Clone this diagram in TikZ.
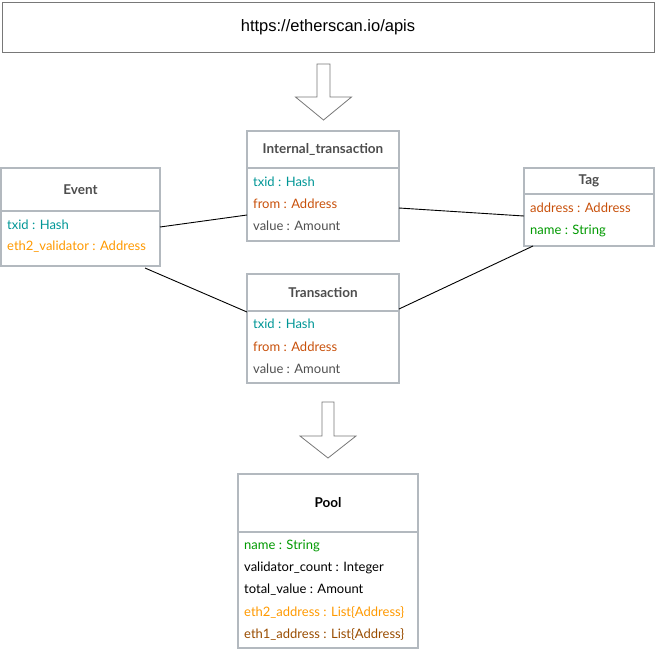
\documentclass[tikz,border=0pt]{standalone}
\usepackage{fontspec}
\setmainfont{Lato}
\newfontfamily\urlfont{Liberation Sans}
\usetikzlibrary{positioning}

\definecolor{boxgray}{RGB}{179,185,191}
\definecolor{urlgray}{RGB}{120,120,120}
\definecolor{titlegray}{RGB}{77,77,77}
\definecolor{hashteal}{RGB}{0,150,150}
\definecolor{addrbrown}{RGB}{200,80,10}
\definecolor{valgray}{RGB}{80,80,80}
\definecolor{strgreen}{RGB}{0,153,0}
\definecolor{ethorange}{RGB}{255,153,0}
\definecolor{ethbrown}{RGB}{153,76,0}

\begin{document}
\begin{tikzpicture}[x=1pt,y=-1pt,
    classhead/.style={draw=boxgray, line width=1.5pt, inner sep=0pt, outer sep=0pt, font=\fontsize{13.5}{15}\selectfont\bfseries, text=titlegray},
    classbody/.style={draw=boxgray, line width=1.5pt, inner sep=0pt, outer sep=0pt, below=0pt of #1},
    attr/.style={anchor=west, inner sep=0pt, font=\fontsize{13}{15}\selectfont},
    link/.style={draw=black, line width=0.9pt},
    hollow/.style={draw=urlgray, line width=0.8pt, fill=white, line join=miter}]
    \useasboundingbox (0,0) rectangle (656,649);

    % data source
    \node[draw=urlgray, line width=1pt, minimum width=652, minimum height=50, font=\urlfont\fontsize{16.5}{18}\selectfont] (api) at (328,27) {https://etherscan.io/apis};
    \draw[hollow] (317,64) -- (330,64) -- (330,97) -- (351.5,97) -- (323.5,120) -- (295.5,97) -- (317,97) -- cycle;

    % Event
    \node[classhead, minimum width=159, minimum height=43] (evt) at (80.5,189.5) {Event};
    \node[classbody=evt, minimum width=159, minimum height=55] (evtb) {};
    \node[attr, text=hashteal] (evt1) at (7,225) {txid : Hash};
    \node[attr, text=ethorange] (evt2) at (7,247) {eth2\_validator : Address};

    % Internal_transaction
    \node[classhead, minimum width=152, minimum height=37] (itx) at (323,149.5) {Internal\_transaction};
    \node[classbody=itx, minimum width=152, minimum height=73] (itxb) {};
    \node[attr, text=hashteal] (itx1) at (253,182) {txid : Hash};
    \node[attr, text=addrbrown] (itx2) at (253,204) {from : Address};
    \node[attr, text=valgray] (itx3) at (253,226) {value : Amount};

    % Tag
    \node[classhead, minimum width=130, minimum height=26] (tag) at (589,181) {Tag};
    \node[classbody=tag, minimum width=130, minimum height=52] (tagb) {};
    \node[attr, text=addrbrown] (tag1) at (530,208) {address : Address};
    \node[attr, text=strgreen] (tag2) at (530,231) {name : String};

    % Transaction
    \node[classhead, minimum width=152, minimum height=37] (trn) at (323,292.5) {Transaction};
    \node[classbody=trn, minimum width=152, minimum height=72] (trnb) {};
    \node[attr, text=hashteal] (trn1) at (253,324) {txid : Hash};
    \node[attr, text=addrbrown] (trn2) at (253,347) {from : Address};
    \node[attr, text=valgray] (trn3) at (253,369) {value : Amount};

    % links
    \draw[link] ([yshift=11.5pt]evtb.east) -- ([yshift=-10.5pt]itxb.west);
    \draw[link] ([yshift=-3.5pt]itxb.east) -- ([yshift=4pt]tagb.west);
    \draw[link] ([xshift=64.5pt,yshift=-2pt]evtb.south) -- ([yshift=-1pt]trn.south west);
    \draw[link] ([xshift=-56pt]tagb.south) -- ([yshift=2pt]trn.south east);

    % result
    \draw[hollow] (322,402) -- (334,402) -- (334,436) -- (356,436) -- (328,458) -- (300,436) -- (322,436) -- cycle;

    % Pool
    \node[classhead, minimum width=180, minimum height=58, text=black] (pool) at (328,503) {Pool};
    \node[classbody=pool, minimum width=180, minimum height=116] (poolb) {};
    \node[attr, text=strgreen] (pool1) at (244,546) {name : String};
    \node[attr, text=black] (pool2) at (244,568) {validator\_count : Integer};
    \node[attr, text=black] (pool3) at (244,590) {total\_value : Amount};
    \node[attr, text=ethorange] (pool4) at (244,612) {eth2\_address : List\{Address\}};
    \node[attr, text=ethbrown] (pool5) at (244,634) {eth1\_address : List\{Address\}};
\end{tikzpicture}
\end{document}
